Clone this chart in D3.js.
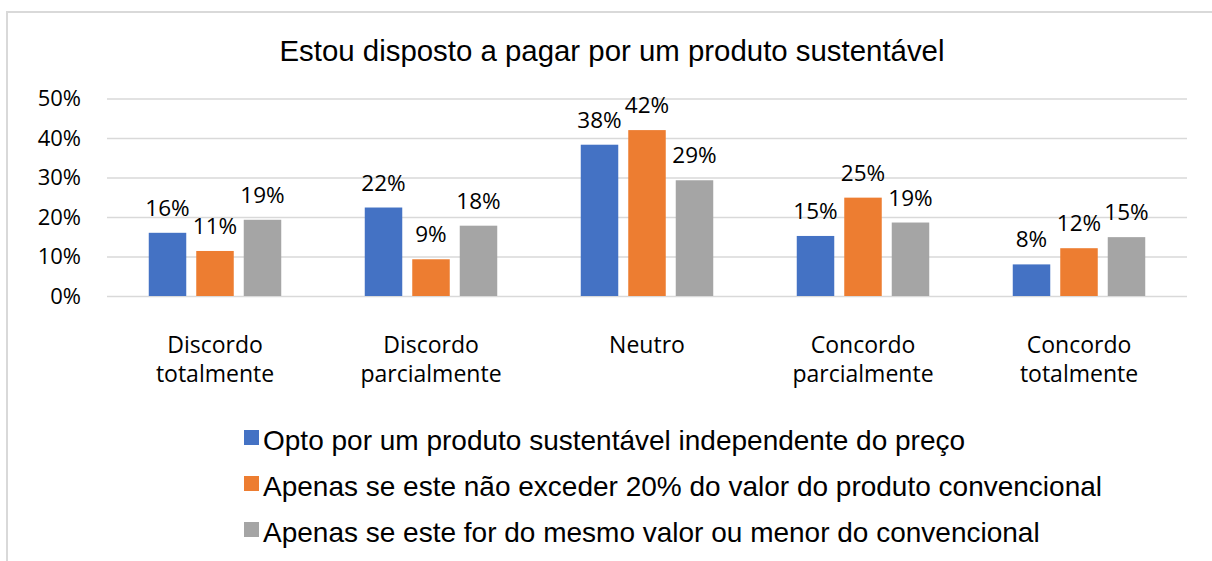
<!DOCTYPE html>
<html>
	<head>
		<title>Estou disposto a pagar por um produto sustentável</title>
		<script type="text/javascript" src="https://cdn.jsdelivr.net/npm/d3@7/dist/d3.min.js"></script>
	<style>
		body {margin : 0; background : #ffffff;}
	</style>
	</head>
	<body>
		<script>
			var categories = [["Discordo", "totalmente"], ["Discordo", "parcialmente"], ["Neutro"], ["Concordo", "parcialmente"], ["Concordo", "totalmente"]];
			var seriesNames = ["Opto por um produto sustentável independente do preço",
				"Apenas se este não exceder 20% do valor do produto convencional",
				"Apenas se este for do mesmo valor ou menor do convencional"];
			var seriesColors = ["#4472C4", "#ED7D31", "#A5A5A5"];
			var blueValues = [0.160, 0.224, 0.383, 0.152, 0.080];
			var orangeValues = [0.114, 0.093, 0.420, 0.249, 0.121];
			var grayValues = [0.193, 0.178, 0.293, 0.186, 0.149];
			var tickValues = [0, 0.1, 0.2, 0.3, 0.4, 0.5];
			var chartTitle = "Estou disposto a pagar por um produto sustentável";

			var seriesValues = [blueValues, orangeValues, grayValues];
			var catKeys = categories.map(function(c){ return c.join(" ");});

			var svg = d3.select("body")
				.append("svg")
				.attr("width", 1212)
				.attr("height", 561);

			// chart area border (cut off at right and bottom like the source)
			svg.append("rect")
				.attr("x", 7)
				.attr("y", 12)
				.attr("width", 1400)
				.attr("height", 800)
				.attr("fill", "none")
				.attr("stroke", "#d9d9d9")
				.attr("stroke-width", 2);

			svg.append("text")
				.attr("x", 612)
				.attr("y", 61)
				.attr("text-anchor", "middle")
				.attr("font-family", "Liberation Sans, Arial, sans-serif")
				.attr("font-size", "29.4px")
				.attr("fill", "#000")
				.text(chartTitle);

			var x0 = d3.scaleBand()
				.domain(catKeys)
				.range([107, 1187])
				.paddingInner(0.3866)
				.paddingOuter(0.1933);

			var x1 = d3.scaleBand()
				.domain([0, 1, 2])
				.range([0, x0.bandwidth()])
				.paddingInner(0.2105);

			var y = d3.scaleLinear()
				.domain([0, 0.5])
				.range([296, 98.5]);

			var yAxis = d3.axisLeft(y)
				.tickValues(tickValues)
				.tickFormat(d3.format(".0%"))
				.tickSize(-1080)
				.tickPadding(26);

			var yAxisG = svg.append("g")
				.attr("transform", "translate(107,0)")
				.call(yAxis);
			yAxisG.select(".domain").remove();
			yAxisG.selectAll(".tick line")
				.attr("stroke", "#d9d9d9")
				.attr("stroke-width", 1.3);
			yAxisG.selectAll(".tick text")
				.attr("font-family", "Open Sans, sans-serif")
				.attr("font-size", "22px")
				.attr("fill", "#000");

			var groups = svg.selectAll("g.group")
				.data(categories)
				.enter()
				.append("g")
				.attr("class", "group")
				.attr("transform", function(d, i){ return "translate(" + x0(catKeys[i]) + ",0)";});

			groups.selectAll("rect")
				.data(function(d, i){ return seriesValues.map(function(s, j){ return {s : j, v : s[i]};});})
				.enter()
				.append("rect")
				.attr("x", function(d){ return x1(d.s);})
				.attr("y", function(d){ return y(d.v);})
				.attr("width", x1.bandwidth())
				.attr("height", function(d){ return y(0) - y(d.v);})
				.attr("fill", function(d){ return seriesColors[d.s];});

			groups.selectAll("text.label")
				.data(function(d, i){ return seriesValues.map(function(s, j){ return {s : j, v : s[i]};});})
				.enter()
				.append("text")
				.attr("class", "label")
				.attr("x", function(d){ return x1(d.s) + x1.bandwidth() / 2;})
				.attr("y", function(d){ return y(d.v) - 17;})
				.attr("text-anchor", "middle")
				.attr("font-family", "Open Sans, sans-serif")
				.attr("font-size", "22.5px")
				.attr("fill", "#000")
				.text(function(d){ return d3.format(".0%")(d.v);});

			// category labels, wrapped in two lines
			var catLabels = svg.selectAll("text.cat")
				.data(categories)
				.enter()
				.append("text")
				.attr("class", "cat")
				.attr("x", function(d, i){ return x0(catKeys[i]) + x0.bandwidth() / 2;})
				.attr("y", 353)
				.attr("text-anchor", "middle")
				.attr("font-family", "Open Sans, sans-serif")
				.attr("font-size", "23px")
				.attr("fill", "#000");
			catLabels.selectAll("tspan")
				.data(function(d){ return d;})
				.enter()
				.append("tspan")
				.attr("x", function(){ return this.parentNode.getAttribute("x");})
				.attr("dy", function(d, i){ return i == 0 ? 0 : 29;})
				.text(function(d){ return d;});

			var legend = svg.selectAll("g.legend")
				.data(seriesNames)
				.enter()
				.append("g")
				.attr("class", "legend")
				.attr("transform", function(d, i){ return "translate(244," + (450 + i * 46) + ")";});

			legend.append("rect")
				.attr("x", 0)
				.attr("y", -20)
				.attr("width", 15)
				.attr("height", 15)
				.attr("fill", function(d, i){ return seriesColors[i];});

			legend.append("text")
				.attr("x", 19)
				.attr("y", 0)
				.attr("font-family", "Liberation Sans, Arial, sans-serif")
				.attr("font-size", "28px")
				.attr("fill", "#000")
				.text(function(d){ return d;});
		</script>
	</body>
</html>
